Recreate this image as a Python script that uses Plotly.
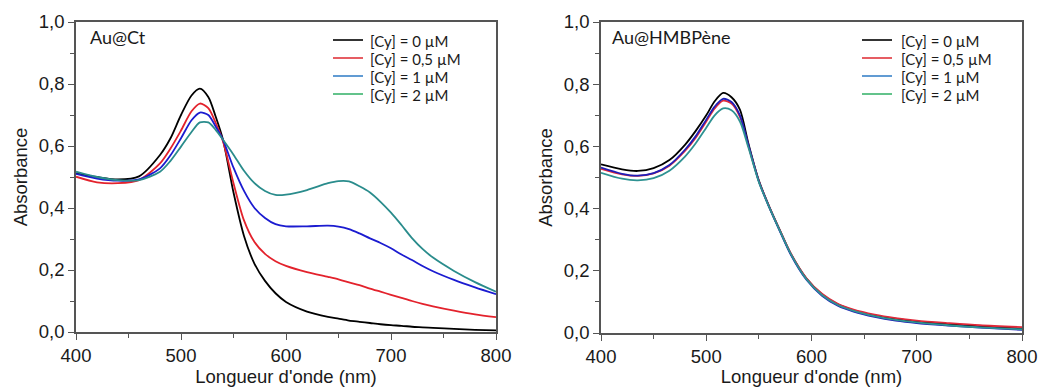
import plotly.graph_objects as go

# ---------------- data ----------------
series_names = ["[Cy] = 0 µM", "[Cy] = 0,5 µM", "[Cy] = 1 µM", "[Cy] = 2 µM"]

wl_ct = [400, 420, 440, 460, 480, 490, 500, 510, 518, 526, 533, 540, 550, 560, 570, 580, 590,
         600, 620, 640, 650, 660, 670, 680, 690, 700, 710, 720, 730, 740, 760, 780, 800]
ct_0 = [.512, .500, .492, .502, .571, .625, .700, .763, .785, .758, .695, .620, .450, .310, .220, .165, .125,
        .097, .066, .049, .043, .037, .033, .029, .025, .022, .020, .017, .015, .013, .010, .007, .005]
ct_05 = [.501, .483, .480, .490, .544, .592, .650, .712, .737, .722, .675, .615, .480, .360, .290, .252, .228,
         .213, .193, .178, .170, .160, .151, .140, .130, .120, .110, .100, .091, .083, .069, .057, .048]
ct_1 = [.510, .495, .488, .492, .528, .570, .625, .683, .708, .700, .663, .620, .530, .455, .400, .368, .348,
        .341, .341, .343, .340, .332, .318, .302, .287, .270, .250, .232, .213, .196, .168, .144, .122]
ct_2 = [.517, .500, .490, .490, .517, .552, .598, .645, .676, .676, .652, .620, .572, .520, .480, .455, .442,
        .443, .458, .480, .487, .486, .470, .450, .420, .385, .345, .303, .268, .240, .197, .161, .130]

wl_hmb = [400, 420, 435, 450, 465, 480, 490, 500, 508, 516, 524, 532, 540, 550, 560, 570, 580,
          595, 610, 625, 640, 660, 680, 700, 730, 760, 800]
hmb_0 = [.542, .526, .521, .530, .556, .606, .650, .700, .745, .772, .758, .718, .610, .490, .405, .330, .257,
         .176, .124, .092, .073, .056, .046, .037, .029, .022, .014]
hmb_05 = [.528, .510, .505, .513, .538, .586, .628, .680, .722, .747, .738, .695, .602, .488, .405, .330, .258,
          .177, .126, .094, .075, .059, .048, .040, .032, .025, .019]
hmb_1 = [.532, .512, .506, .514, .540, .590, .633, .686, .728, .753, .743, .700, .605, .487, .403, .327, .254,
         .172, .120, .088, .069, .052, .040, .032, .024, .017, .010]
hmb_2 = [.515, .496, .491, .498, .522, .568, .610, .660, .700, .722, .716, .680, .597, .485, .403, .328, .256,
         .174, .122, .090, .071, .054, .042, .034, .025, .018, .012]

x_ticks = [400, 500, 600, 700, 800]
y_ticks = [0.0, 0.2, 0.4, 0.6, 0.8, 1.0]
panel_titles = ["Au@Ct", "Au@HMBPène"]
x_title = "Longueur d'onde (nm)"
y_title = "Absorbance"

# ---------------- styles ----------------
W, H = 1039, 387
line_colors_ct = ["#000000", "#e3222c", "#1b1bd0", "#2a8c8c"]
line_colors_hmb = ["#000000", "#e02a3a", "#1f1fb8", "#2e9292"]
legend_colors = ["#000000", "#e0343c", "#3a82c8", "#3cb46e"]
axis_color = "#555555"
tick_font = dict(family="Liberation Sans, Arial, sans-serif", size=18.5, color="#1a1a1a")
title_font = dict(family="Liberation Sans, Arial, sans-serif", size=18.5, color="#1a1a1a")
label_font = dict(family="Lato, Carlito, sans-serif", size=15, color="#1a1a1a")

fig = go.Figure()

left_series = [ct_0, ct_05, ct_1, ct_2]
right_series = [hmb_0, hmb_05, hmb_1, hmb_2]

for name, ys, col in zip(series_names, left_series, line_colors_ct):
    fig.add_trace(go.Scatter(x=wl_ct, y=ys, mode="lines", name=name, showlegend=False,
                             line=dict(color=col, width=1.8, shape="spline", smoothing=0.8),
                             xaxis="x", yaxis="y"))
for name, ys, col in zip(series_names, right_series, line_colors_hmb):
    fig.add_trace(go.Scatter(x=wl_hmb, y=ys, mode="lines", name=name, showlegend=False,
                             line=dict(color=col, width=1.8, shape="spline", smoothing=0.8),
                             xaxis="x2", yaxis="y2"))


def px_x(p):
    return p / W


def px_y(p):
    return 1 - p / H


def xaxis_cfg(domain, anchor):
    return dict(domain=domain, anchor=anchor, range=[400, 800], tickvals=x_ticks,
                ticks="outside", ticklen=6, tickwidth=1.3, tickcolor=axis_color,
                showline=True, linecolor=axis_color, linewidth=1.5, mirror=True,
                showgrid=False, zeroline=False, tickfont=tick_font,
                minor=dict(ticks="outside", ticklen=4, tickwidth=1.2, tickcolor=axis_color,
                           dtick=50, showgrid=False),
                title=dict(text=x_title, font=title_font, standoff=4), automargin=False)


def yaxis_cfg(domain, anchor):
    return dict(domain=domain, anchor=anchor, range=[0, 1.0], tickvals=y_ticks, tickformat=".1f",
                ticks="outside", ticklen=6, tickwidth=1.3, tickcolor=axis_color,
                showline=True, linecolor=axis_color, linewidth=1.5, mirror=True,
                showgrid=False, zeroline=False, tickfont=tick_font,
                minor=dict(ticks="outside", ticklen=4, tickwidth=1.2, tickcolor=axis_color,
                           dtick=0.1, showgrid=False),
                title=dict(text=y_title, font=title_font, standoff=6), automargin=False)


annotations = []
shapes = []
# panel titles
for t, xp in zip(panel_titles, [88, 610]):
    annotations.append(dict(text=t, x=px_x(xp), y=px_y(37), xref="paper", yref="paper",
                            xanchor="left", yanchor="middle", showarrow=False,
                            font=dict(family="Lato, Carlito, sans-serif", size=18, color="#1a1a1a")))
# legends (compact, as in reference)
row_gap = 18
for line_x0, text_x in [(333, 368), (862, 899)]:
    for i, (name, col) in enumerate(zip(series_names, legend_colors)):
        yc = 40 + i * row_gap
        shapes.append(dict(type="line", xref="paper", yref="paper",
                           x0=px_x(line_x0), x1=px_x(line_x0 + 30), y0=px_y(yc), y1=px_y(yc),
                           line=dict(color=col, width=1.6)))
        annotations.append(dict(text=name, x=px_x(text_x), y=px_y(yc + 1), xref="paper", yref="paper",
                                xanchor="left", yanchor="middle", showarrow=False, font=label_font))

fig.update_layout(
    width=W, height=H,
    margin=dict(l=0, r=0, t=0, b=0),
    paper_bgcolor="white", plot_bgcolor="white",
    separators=",.",
    showlegend=False,
    xaxis=xaxis_cfg([px_x(76), px_x(496)], "y"),
    yaxis=yaxis_cfg([px_y(332), px_y(22)], "x"),
    xaxis2=xaxis_cfg([px_x(601), px_x(1022)], "y2"),
    yaxis2=yaxis_cfg([px_y(333), px_y(22)], "x2"),
    annotations=annotations,
    shapes=shapes,
)

fig.write_html("out.html", config={"displayModeBar": False},
               post_script="document.body.style.margin='0';document.body.style.overflow='hidden';")
